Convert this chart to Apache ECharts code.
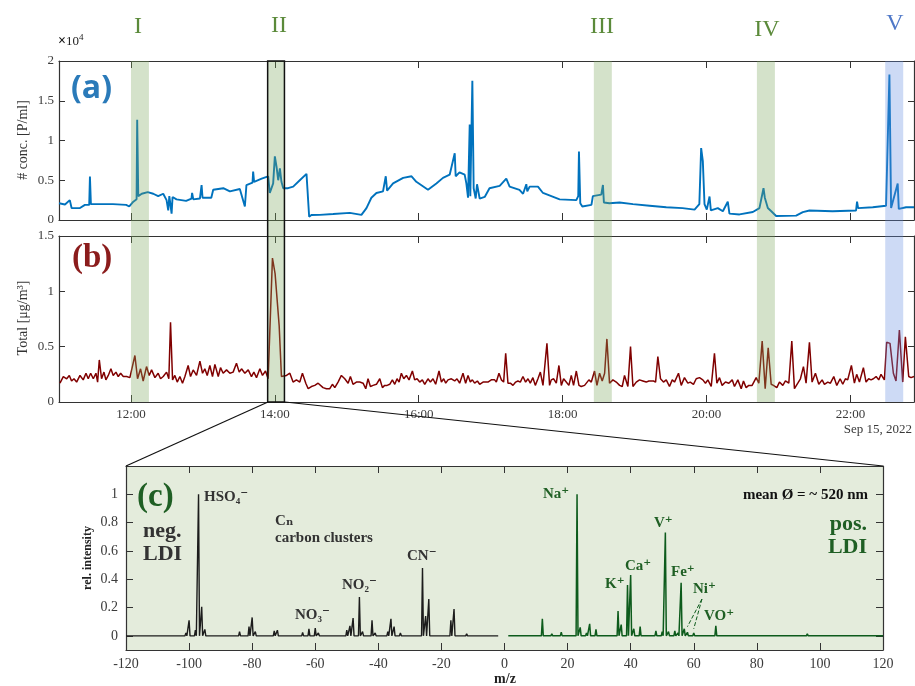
<!DOCTYPE html>
<html>
<head>
<meta charset="utf-8">
<script src="https://cdn.jsdelivr.net/npm/echarts@6/dist/echarts.min.js"></script>
<style>
  html, body { margin: 0; padding: 0; background: #fff; }
  #main { width: 915px; height: 686px; }
</style>
</head>
<body>
<div id="main"></div>
<script>
// time axis: minutes after 11:00, Sep 15, 2022
var tMax = 713;
var hourTicks = [60, 180, 300, 420, 540, 660];

// (a) particle number concentration [P/ml]
var concTime = [
  0, 5, 9, 10.5, 17.5, 21.6, 25.2, 25.8, 26.6, 34,
  45, 56, 58.6, 62, 64.7, 65.2, 66.1, 69, 74, 78.6,
  82.7, 86.9, 89.7, 91.1, 92, 93.9, 94.7, 98, 106, 110.5,
  111, 112, 117.5, 118.9, 119.7, 127, 128.6, 137, 142.5, 150.8,
  155, 156.3, 161.4, 161.9, 162.7, 169, 174.4, 175.8, 178.6, 180,
  181.4, 182.8, 184.2, 185.5, 187, 191, 195.3, 200.8, 206.4, 207.8,
  208.6, 210.5, 217.5, 228.6, 242.5, 252.2, 256.4, 260.5, 264.7, 270.2,
  272.5, 273.6, 278.6, 287, 294, 298, 307.7, 314.7, 320.2, 325.8,
  330, 330.8, 334, 338.3, 339.7, 341.1, 342.5, 343, 344.7, 345.8,
  347.5, 348.6, 350.8, 355, 359, 367.5, 373, 375.8, 384, 387,
  389.7, 390.5, 392.5, 399.4, 403.6, 417.5, 431.4, 433, 433.6, 434.7,
  436.4, 444, 445.2, 452.2, 453.6, 454.4, 459, 467.5, 478.6, 492.5,
  506.4, 520, 530, 534, 535.5, 536.9, 538.3, 540.2, 542.5, 543.6,
  549.4, 553.6, 557.7, 559.1, 567.5, 578.6, 584.1, 587.5, 588.6, 591.1,
  594, 598, 614.7, 620.3, 625.8, 645, 664.7, 665.5, 666.4, 678.6,
  689.7, 692.5, 693.9, 699.4, 700.3, 706.4, 713
];
var concValue = [
  2100, 1950, 2500, 1500, 1500, 1900, 1900, 5470, 2000, 2000,
  2000, 1900, 1700, 2300, 2600, 12600, 3000, 3300, 3500, 3300,
  3000, 3300, 2500, 1200, 3000, 800, 2900, 2600, 2400, 2700,
  3400, 2600, 2700, 4400, 2800, 2800, 3800, 4000, 3600, 3900,
  1700, 4400, 4700, 6100, 4800, 5200, 5500, 3400, 4600, 8000,
  6700, 5000, 6500, 4800, 4000, 4000, 4200, 5000, 5800, 5900,
  420, 630, 650, 750, 900, 650, 1500, 2800, 3400, 3600,
  5500, 3700, 4600, 5300, 5500, 4800, 3800, 4600, 5300, 5700,
  8400, 5500, 6000, 5700, 4600, 2800, 12000, 3000, 17500, 4000,
  2700, 4500, 2700, 2900, 4000, 4300, 5200, 4200, 3800, 3300,
  4500, 3600, 4200, 4200, 3400, 2600, 2500, 3000, 8600, 2100,
  1700, 1900, 3000, 3200, 4400, 2200, 2100, 2200, 2000, 1800,
  1600, 1500, 1300, 2000, 9050, 7400, 2000, 1300, 2950, 1200,
  1500, 1100, 2300, 800, 700, 1000, 1500, 4000, 2800, 1500,
  1100, 500, 550, 1000, 1200, 1100, 1200, 2300, 1500, 1600,
  1800, 18300, 1500, 4600, 1400, 1600, 1600
];

// (b) total mass concentration [ug/m3]
var massTime = [
  0.8, 3.6, 6.4, 8.6, 10.5, 12.5, 14.7, 17.5, 20.2, 22.5,
  24.4, 26.4, 28.6, 30.8, 32.2, 33.6, 35.5, 37.5, 39.1, 41.1,
  43.3, 45.2, 47.5, 49.4, 51.4, 53.6, 56.4, 59.1, 60.5, 63.3,
  65.5, 68, 70.2, 73, 75.2, 77.2, 80, 82.7, 84.7, 86.9,
  89.7, 91.6, 93, 94.7, 96.6, 98.6, 100.8, 103, 105, 107.7,
  109.7, 111.9, 114.7, 117.5, 119.7, 121.6, 123.6, 125.8, 128, 130,
  132.8, 134.7, 136.9, 139.7, 142.5, 145.2, 148, 150.3, 152.2, 155,
  157.8, 160.5, 162.5, 164.7, 167.5, 169.7, 172.2, 174.4, 175.8, 178,
  180.2, 183.6, 185.5, 186.9, 189.7, 192.5, 195.2, 198, 200.8, 203,
  205.8, 207.8, 210.5, 213.3, 216.1,
  220.2, 223, 225.8, 228, 230, 232.7, 235.5, 238.3, 241.1, 243,
  245.2, 248, 250.8, 253.6, 255.8, 257.7, 259.7, 261.9, 264.7, 267.5,
  269.7, 271.6, 273.6, 275.8, 278, 280, 281.9, 283.6, 285.5, 287.5,
  289.7, 291.9, 294.7, 296.6, 298.6, 300.8, 303, 305, 307.7, 309.7,
  311.9, 314.1, 316.9, 318.9, 320.8, 322.5, 324.4, 327.2, 330, 331.9,
  334.1, 336.9, 339.1, 341.1, 343, 344.7, 346.6, 348.9, 350.8, 353.6,
  355.8, 357.7, 360.5, 363.3, 364.7, 366.9, 368.9, 370.8, 372.5, 374.4,
  376.4, 378.6, 380.8, 382.7, 384.7, 386.9, 389.1, 391.1, 393, 395.2,
  397.2, 399.4, 401.4, 403.6, 406.9, 409.1, 410.5, 412.5, 414.7, 416.9,
  418.9, 420.8, 423, 425.2, 427.2, 429.1, 431.4, 433.6, 435.5, 438.3,
  439.7, 441.9, 443.9, 446.6, 448.6, 450.8, 453, 455, 456.9, 459.1,
  461.9, 464.7,
  467.5, 469.7, 471.6, 474.4, 476.6, 478.6, 481.4, 484.1, 486.9, 489.7,
  491.9, 495.8, 497.5, 499.4, 501.6, 504.1, 506.4, 509.1, 511.4, 513.3,
  516.6, 518.9, 521.6, 524.4, 526.4, 529.1, 531.4, 534.1, 536.9, 539.1,
  541.1, 543.9, 546.6, 548.6, 550.8, 553, 555.8, 558.6, 561.4, 563.3,
  566.1, 568.9, 570.8, 573, 575.2, 578, 581.4, 583.6, 586.4, 588.9,
  591.4, 593.9, 595.8, 598.6, 600.8, 603.6, 605.8, 608.6, 611.1, 613.3,
  616.1, 618.3, 620.8, 623, 625.8, 628, 630.8, 633.6, 636.4, 638.3,
  641.1, 643.3, 646.1, 648.6, 651.4, 653.6, 655.8, 657.7, 660.8, 663.3,
  665.2, 667.5, 670.8, 673, 675.2, 677.2, 679.1, 681.4, 683.6, 685.5,
  688.3, 690.2, 693, 695.8, 698, 700.8, 703.6, 705.8, 708.6, 710.5,
  713
];
var massValue = [
  0.17, 0.23, 0.21, 0.24, 0.19, 0.21, 0.18, 0.24, 0.20, 0.26,
  0.21, 0.26, 0.21, 0.26, 0.18, 0.38, 0.21, 0.27, 0.20, 0.24,
  0.30, 0.24, 0.27, 0.23, 0.26, 0.23, 0.23, 0.22, 0.21, 0.42,
  0.21, 0.30, 0.19, 0.32, 0.24, 0.29, 0.22, 0.26, 0.21, 0.23,
  0.27, 0.21, 0.72, 0.20, 0.24, 0.18, 0.23, 0.17, 0.23, 0.33,
  0.23, 0.29, 0.24, 0.37, 0.26, 0.30, 0.24, 0.33, 0.23, 0.34,
  0.23, 0.31, 0.26, 0.29, 0.26, 0.27, 0.35, 0.27, 0.30, 0.26,
  0.29, 0.23, 0.27, 0.22, 0.30, 0.24, 0.28, 0.21, 0.20, 1.30,
  1.16, 0.69, 0.23, 0.24, 0.24, 0.26, 0.18, 0.20, 0.18, 0.26,
  0.17, 0.12, 0.14, 0.15, 0.17,
  0.13, 0.12, 0.12, 0.16, 0.13, 0.18, 0.24, 0.21, 0.17, 0.23,
  0.16, 0.18, 0.18, 0.17, 0.12, 0.21, 0.14, 0.15, 0.16, 0.21,
  0.13, 0.15, 0.15, 0.16, 0.20, 0.16, 0.21, 0.18, 0.26, 0.21,
  0.24, 0.20, 0.28, 0.20, 0.21, 0.18, 0.20, 0.16, 0.21, 0.18,
  0.21, 0.16, 0.28, 0.18, 0.21, 0.17, 0.20, 0.21, 0.19, 0.21,
  0.17, 0.26, 0.17, 0.24, 0.18, 0.20, 0.17, 0.19, 0.16, 0.18,
  0.18, 0.18, 0.20, 0.20, 0.18, 0.26, 0.20, 0.18, 0.44, 0.17,
  0.17, 0.15, 0.18, 0.19, 0.18, 0.23, 0.18, 0.21, 0.17, 0.22,
  0.15, 0.21, 0.27, 0.15, 0.53, 0.15, 0.20, 0.21, 0.17, 0.33,
  0.15, 0.21, 0.18, 0.15, 0.24, 0.15, 0.28, 0.15, 0.14, 0.15,
  0.14, 0.20, 0.18, 0.28, 0.15, 0.26, 0.19, 0.26, 0.57, 0.17,
  0.20, 0.18,
  0.15, 0.14, 0.24, 0.14, 0.50, 0.14, 0.18, 0.20, 0.19, 0.18,
  0.19, 0.19, 0.18, 0.41, 0.21, 0.18, 0.20, 0.14, 0.20, 0.18,
  0.26, 0.15, 0.22, 0.17, 0.18, 0.16, 0.21, 0.22, 0.20, 0.17,
  0.20, 0.14, 0.44, 0.17, 0.22, 0.15, 0.18, 0.17, 0.20, 0.14,
  0.20, 0.12, 0.19, 0.13, 0.15, 0.15, 0.22, 0.17, 0.55, 0.12,
  0.49, 0.16, 0.15, 0.13, 0.18, 0.15, 0.19, 0.17, 0.55, 0.12,
  0.17, 0.21, 0.32, 0.17, 0.54, 0.18, 0.26, 0.16, 0.20, 0.16,
  0.18, 0.17, 0.23, 0.15, 0.21, 0.16, 0.21, 0.20, 0.33, 0.17,
  0.25, 0.18, 0.31, 0.18, 0.21, 0.20, 0.21, 0.23, 0.20, 0.25,
  0.20, 0.54, 0.53, 0.26, 0.19, 0.65, 0.18, 0.59, 0.23, 0.22,
  0.23
];

// highlighted episodes I..V (minutes after 11:00)
var bandName = ['I', 'II', 'III', 'IV', 'V'];
var bandStart = [60, 174, 446, 582, 689];
var bandEnd = [75, 188, 461, 597, 704];

// (c) mean spectrum of episode II
var negMz = [-117, -109, -101, -100, -98, -97, -96, -95, -84, -81, -80, -79, -73, -72,
  -64, -62, -60, -59, -50, -49, -48, -46, -45, -42, -41, -37, -36, -35, -33,
  -26, -25, -24, -17, -16, -12];
var negInt = [0.01, 0.01, 0.02, 0.11, 0.04, 1.0, 0.205, 0.045, 0.03, 0.065, 0.13, 0.03, 0.035, 0.04,
  0.025, 0.05, 0.055, 0.02, 0.04, 0.07, 0.125, 0.275, 0.03, 0.11, 0.02, 0.03, 0.12, 0.065, 0.02,
  0.48, 0.14, 0.26, 0.11, 0.19, 0.015];
var posMz = [12, 15, 18, 23, 24, 26, 27, 29, 36, 37, 39, 40, 41, 43, 48, 50, 51, 52,
  54, 55, 56, 57, 58, 60, 67, 96];
var posInt = [0.12, 0.015, 0.025, 1.0, 0.06, 0.02, 0.085, 0.045, 0.175, 0.08, 0.36, 0.43, 0.05, 0.065,
  0.035, 0.03, 0.73, 0.03, 0.035, 0.02, 0.375, 0.05, 0.025, 0.02, 0.07, 0.015];
var relTicks = [0, 0.2, 0.4, 0.6, 0.8, 1];

var serif = "'Liberation Serif', 'DejaVu Serif', serif";
var axisColor = '#333';
var labelColor = '#3a3a3a';

function pairs(xs, ys) {
  return xs.map(function (x, i) { return [x, ys[i]]; });
}

// stick spectrum on a flat baseline
function spectrum(mz, inten, from, to) {
  var idx = mz.map(function (m, i) { return i; }).sort(function (a, b) { return mz[a] - mz[b]; });
  var pts = [[from, 0]];
  idx.forEach(function (i) {
    pts.push([mz[i] - 0.3, 0], [mz[i], inten[i]], [mz[i] + 0.3, 0]);
  });
  pts.push([to, 0]);
  return pts;
}

function hhmm(v) {
  var m = Math.round(v) + 11 * 60;
  var h = Math.floor(m / 60), mm = m % 60;
  return h + ':' + (mm < 10 ? '0' : '') + mm;
}

function timeAxis(grid, pos, showLabel) {
  return {
    type: 'value', gridIndex: grid, position: pos, min: 0, max: tMax,
    axisLine: { show: true, onZero: false, lineStyle: { color: axisColor, width: 1.2 } },
    axisTick: { show: true, inside: true, length: 7, customValues: hourTicks, lineStyle: { color: axisColor } },
    axisLabel: { show: showLabel, customValues: hourTicks, formatter: hhmm, margin: 6,
      fontFamily: serif, fontSize: 13, color: labelColor },
    splitLine: { show: false }
  };
}

function valAxis(grid, pos, min, max, interval, showLabel, fmt) {
  return {
    type: 'value', gridIndex: grid, position: pos, min: min, max: max, interval: interval,
    axisLine: { show: true, onZero: false, lineStyle: { color: axisColor, width: 1.2 } },
    axisTick: { show: true, inside: true, length: 6, lineStyle: { color: axisColor } },
    axisLabel: { show: showLabel, margin: 5, fontFamily: serif, fontSize: 13, color: labelColor, formatter: fmt },
    splitLine: { show: false }
  };
}

var bandAreas = bandName.map(function (n, i) {
  var style = { color: n === 'V' ? 'rgba(100,140,225,0.32)' : 'rgba(120,165,90,0.32)' };
  if (n === 'II') { style.borderColor = '#111'; style.borderWidth = 1.5; }
  return [{ xAxis: bandStart[i], itemStyle: style }, { xAxis: bandEnd[i] }];
});

var relAxisBase = {
  type: 'value', gridIndex: 3, min: -0.1, max: 1.2,
  axisLine: { show: true, onZero: false, lineStyle: { color: axisColor, width: 1.2 } },
  axisTick: { show: true, inside: true, length: 7, customValues: relTicks, lineStyle: { color: axisColor } },
  splitLine: { show: false }
};

var chart = echarts.init(document.getElementById('main'), null, { renderer: 'canvas' });

var option = {
  animation: false,
  backgroundColor: '#fff',
  grid: [
    { left: 59, right: 1, top: 61, height: 159 },
    { left: 59, right: 1, top: 236, height: 166 },
    { left: 59, right: 1, top: 61, height: 341 },
    { left: 126, top: 466, width: 757, height: 184, show: true, backgroundColor: '#e4ecdc', borderWidth: 0 }
  ],
  xAxis: [
    timeAxis(0, 'bottom', false),
    timeAxis(0, 'top', false),
    timeAxis(1, 'bottom', true),
    timeAxis(1, 'top', false),
    { type: 'value', gridIndex: 2, min: 0, max: tMax, show: false },
    {
      type: 'value', gridIndex: 3, position: 'bottom', min: -120, max: 120, interval: 20,
      axisLine: { show: true, onZero: false, lineStyle: { color: axisColor, width: 1.2 } },
      axisTick: { show: true, inside: true, length: 7, lineStyle: { color: axisColor } },
      axisLabel: { margin: 7, fontFamily: serif, fontSize: 14, color: labelColor },
      splitLine: { show: false }
    },
    {
      type: 'value', gridIndex: 3, position: 'top', min: -120, max: 120, interval: 20,
      axisLine: { show: true, onZero: false, lineStyle: { color: axisColor, width: 1.2 } },
      axisTick: { show: true, inside: true, length: 7, lineStyle: { color: axisColor } },
      axisLabel: { show: false },
      splitLine: { show: false }
    }
  ],
  yAxis: [
    valAxis(0, 'left', 0, 20000, 5000, true, function (v) { return String(v / 10000); }),
    valAxis(0, 'right', 0, 20000, 5000, false),
    valAxis(1, 'left', 0, 1.5, 0.5, true, function (v) { return String(v); }),
    valAxis(1, 'right', 0, 1.5, 0.5, false),
    { type: 'value', gridIndex: 2, min: 0, max: 1, show: false },
    Object.assign({}, relAxisBase, {
      position: 'left',
      axisLabel: { customValues: relTicks, margin: 8, fontFamily: serif, fontSize: 14, color: labelColor,
        formatter: function (v) { return String(v); } }
    }),
    Object.assign({}, relAxisBase, { position: 'right', axisLabel: { show: false } })
  ],
  series: [
    {
      type: 'line', xAxisIndex: 0, yAxisIndex: 0, data: pairs(concTime, concValue),
      symbol: 'none', lineStyle: { color: '#0072bd', width: 1.9 }, z: 2
    },
    {
      type: 'line', xAxisIndex: 2, yAxisIndex: 2, data: pairs(massTime, massValue),
      symbol: 'none', lineStyle: { color: '#800000', width: 1.5 }, z: 2
    },
    {
      type: 'line', xAxisIndex: 4, yAxisIndex: 4, data: [[0, -5], [tMax, -5]],
      symbol: 'none', lineStyle: { opacity: 0 }, silent: true, z: 5,
      markArea: { silent: true, z: 5, data: bandAreas }
    },
    {
      type: 'line', xAxisIndex: 5, yAxisIndex: 5, data: spectrum(negMz, negInt, -120, -2),
      symbol: 'none', lineStyle: { color: '#1c1c1c', width: 1.4 }, z: 3
    },
    {
      type: 'line', xAxisIndex: 5, yAxisIndex: 5, data: spectrum(posMz, posInt, 1.2, 120),
      symbol: 'none', lineStyle: { color: '#0d5b1c', width: 1.5 }, z: 3,
      markLine: {
        silent: true, symbol: 'none', label: { show: false },
        lineStyle: { color: '#0d5b1c', type: 'dashed', width: 1 },
        data: [
          [{ coord: [62.6, 0.26] }, { coord: [58, 0.065] }],
          [{ coord: [62.6, 0.26] }, { coord: [60, 0.05] }]
        ]
      }
    }
  ],
  graphic: []
};

function txt(text, x, y, font, fill, align, extra) {
  var el = { type: 'text', x: x, y: y, z: 20,
    style: { text: text, font: font, fill: fill, align: align || 'left', verticalAlign: 'middle' } };
  if (extra) Object.assign(el, extra);
  return el;
}

var green = '#1f5f24';
var gr = [
  // episode labels
  txt('I', 138, 27, '24px ' + serif, '#5b8a3a', 'center'),
  txt('II', 279, 26, '24px ' + serif, '#5b8a3a', 'center'),
  txt('III', 602, 27, '24px ' + serif, '#5b8a3a', 'center'),
  txt('IV', 767, 30, '24px ' + serif, '#5b8a3a', 'center'),
  txt('V', 895, 24, '24px ' + serif, '#4f78c8', 'center'),
  {
    type: 'text', x: 58, y: 50, z: 20,
    style: {
      text: '{a|×}{b|10}{c|4}', verticalAlign: 'bottom',
      rich: {
        a: { font: 'bold 14px ' + serif, fill: '#111' },
        b: { font: '13px ' + serif, fill: '#222' },
        c: { font: '9px ' + serif, fill: '#222', padding: [0, 0, 8, 0] }
      }
    }
  },
  // panel letters
  txt('(a)', 71, 89, 'bold 32px "Open Sans", sans-serif', '#2a7ab9', 'left'),
  txt('(b)', 72, 258, 'bold 33px ' + serif, '#8b1c1c', 'left'),
  txt('(c)', 137, 497, 'bold 33px ' + serif, green, 'left'),
  // axis names
  txt('# conc. [P/ml]', 23, 140, '14px ' + serif, '#333', 'center', { rotation: Math.PI / 2 }),
  txt('Total [μg/m³]', 23, 318, '14px ' + serif, '#333', 'center', { rotation: Math.PI / 2 }),
  txt('rel. intensity', 88, 558, 'bold 12px ' + serif, '#222', 'center', { rotation: Math.PI / 2 }),
  txt('m/z', 505, 679, 'bold 14px ' + serif, '#222', 'center'),
  txt('Sep 15, 2022', 912, 430, '13px ' + serif, labelColor, 'right'),
  // zoom connectors from episode II to the spectrum panel
  { type: 'line', z: 20, shape: { x1: 268, y1: 402, x2: 126, y2: 466 }, style: { stroke: '#111', lineWidth: 1.2 } },
  { type: 'line', z: 20, shape: { x1: 285, y1: 402, x2: 883, y2: 466 }, style: { stroke: '#111', lineWidth: 1.2 } },
  // spectrum annotations
  txt('neg.', 143, 531, 'bold 22px ' + serif, '#333', 'left'),
  txt('LDI', 143, 554, 'bold 22px ' + serif, '#333', 'left'),
  txt('pos.', 867, 524, 'bold 22px ' + serif, green, 'right'),
  txt('LDI', 867, 547, 'bold 22px ' + serif, green, 'right'),
  txt('mean Ø = ~ 520 nm', 868, 495, 'bold 15px ' + serif, '#111', 'right'),
  txt('HSO₄⁻', 204, 497, 'bold 15px ' + serif, '#333', 'left'),
  txt('Cₙ', 275, 521, 'bold 15px ' + serif, '#333', 'left'),
  txt('carbon clusters', 275, 538, 'bold 15px ' + serif, '#333', 'left'),
  txt('CN⁻', 407, 556, 'bold 15px ' + serif, '#333', 'left'),
  txt('NO₂⁻', 342, 585, 'bold 15px ' + serif, '#333', 'left'),
  txt('NO₃⁻', 295, 615, 'bold 15px ' + serif, '#333', 'left'),
  txt('Na⁺', 543, 494, 'bold 15px ' + serif, green, 'left'),
  txt('V⁺', 654, 523, 'bold 15px ' + serif, green, 'left'),
  txt('Ca⁺', 625, 566, 'bold 15px ' + serif, green, 'left'),
  txt('K⁺', 605, 584, 'bold 15px ' + serif, green, 'left'),
  txt('Fe⁺', 671, 572, 'bold 15px ' + serif, green, 'left'),
  txt('Ni⁺', 693, 589, 'bold 15px ' + serif, green, 'left'),
  txt('VO⁺', 704, 616, 'bold 15px ' + serif, green, 'left')
];
option.graphic = gr;

chart.setOption(option);
</script>
</body>
</html>
